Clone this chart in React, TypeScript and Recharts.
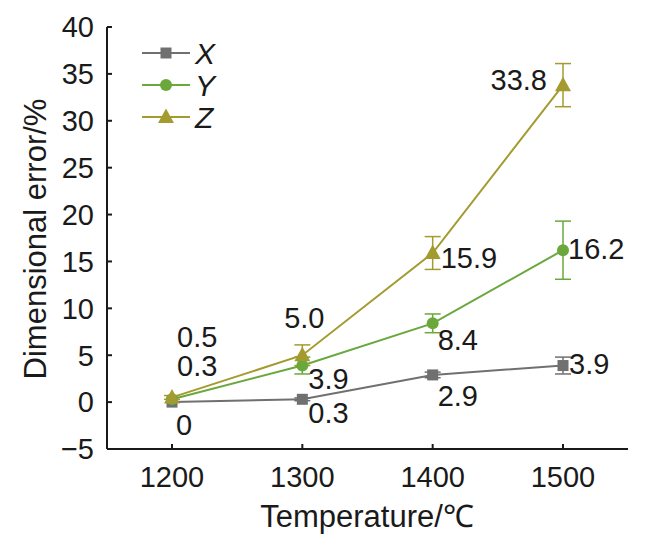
import React from 'react';
import {
  LineChart,
  Line,
  XAxis,
  YAxis,
  ErrorBar,
  LabelList,
  Label,
} from 'recharts';

const temperatures = ['1200', '1300', '1400', '1500'];

const xError = [0, 0.3, 2.9, 3.9];
const yError = [0.3, 3.9, 8.4, 16.2];
const zError = [0.5, 5.0, 15.9, 33.8];

const xSpread = [0, 0.15, 0.3, 0.9];
const ySpread = [0, 0.9, 1.0, 3.1];
const zSpread = [0.2, 1.1, 1.75, 2.3];

const yTicks = [-5, 0, 5, 10, 15, 20, 25, 30, 35, 40];

const FONT = '"Liberation Sans", Arial, Helvetica, sans-serif';
const AXIS = '#1a1a1a';

const series = [
  { key: 'X', err: 'xErr', color: '#707070', shape: 'square' },
  { key: 'Y', err: 'yErr', color: '#6aa83c', shape: 'circle' },
  { key: 'Z', err: 'zErr', color: '#a49b30', shape: 'triangle' },
];

// where each value label sits relative to its point: [dx, dy, anchor]
const labelPlacement: Record<string, [number, number, string][]> = {
  X: [[4, 23, 'start'], [6, 14, 'start'], [5, 21, 'start'], [6, -2, 'start']],
  Y: [[5, -33, 'start'], [6, 13, 'start'], [5, 17, 'start'], [5, -1, 'start']],
  Z: [[5, -60, 'start'], [2, -37, 'middle'], [8, 5, 'start'], [-16, -5, 'end']],
};

const data = temperatures.map((t, i) => ({
  temp: t,
  X: xError[i],
  Y: yError[i],
  Z: zError[i],
  xErr: xSpread[i],
  yErr: ySpread[i],
  zErr: zSpread[i],
}));

function Marker({ cx, cy, shape, color }: any) {
  if (cx == null || cy == null) return null;
  if (shape === 'square') {
    return <rect x={cx - 5.5} y={cy - 5.5} width={11} height={11} fill={color} />;
  }
  if (shape === 'circle') {
    return <circle cx={cx} cy={cy} r={6} fill={color} />;
  }
  return (
    <polygon
      points={`${cx},${cy - 8.5} ${cx - 8},${cy + 6} ${cx + 8},${cy + 6}`}
      fill={color}
    />
  );
}

function makeValueLabel(key: string, values: number[]) {
  return (props: any) => {
    const { x, y, index } = props;
    const [dx, dy, anchor] = labelPlacement[key][index];
    return (
      <text
        x={x + dx}
        y={y + dy}
        textAnchor={anchor as any}
        dominantBaseline="central"
        fontSize={29}
        fontFamily={FONT}
        fill="#1a1a1a"
      >
        {values[index].toFixed(index === 0 && key === 'X' ? 0 : 1)}
      </text>
    );
  };
}

// legend drawn as an overlay in the top-left corner of the plot
function LegendBox() {
  return (
    <svg width={90} height={100} style={{ position: 'absolute', left: 135, top: 36 }}>
      {series.map((s, i) => {
        const cy = 17 + i * 32;
        return (
          <g key={s.key}>
            <line x1={7} x2={55} y1={cy} y2={cy} stroke={s.color} strokeWidth={2} />
            <Marker cx={31} cy={cy} shape={s.shape} color={s.color} />
            <text
              x={60}
              y={cy}
              dominantBaseline="central"
              fontSize={30}
              fontStyle="italic"
              fontFamily={FONT}
              fill="#1a1a1a"
            >
              {s.key}
            </text>
          </g>
        );
      })}
    </svg>
  );
}

const valuesByKey: Record<string, number[]> = { X: xError, Y: yError, Z: zError };

export default function App() {
  return (
    <div style={{ position: 'absolute', left: 0, top: 0, width: 659, height: 544, background: '#fff' }}>
      <LineChart
        width={659}
        height={544}
        data={data}
        margin={{ top: 27, right: 31, left: 10, bottom: 30 }}
      >
        <XAxis
          dataKey="temp"
          height={65}
          padding={{ left: 65, right: 65 }}
          stroke={AXIS}
          strokeWidth={2}
          tickSize={-5}
          tickMargin={22}
          tick={{ fontSize: 29, fontFamily: FONT, fill: '#1a1a1a' }}
        >
          <Label
            content={() => (
              <text
                x={367}
                y={527}
                textAnchor="middle"
                fontSize={31}
                fontFamily={FONT}
                fill="#1a1a1a"
              >
                Temperature/℃
              </text>
            )}
          />
        </XAxis>
        <XAxis
          xAxisId="top"
          orientation="top"
          dataKey="temp"
          height={0}
          stroke={AXIS}
          strokeWidth={2}
          tick={false}
          tickLine={false}
        />
        <YAxis
          width={97}
          domain={[-5, 40]}
          ticks={yTicks}
          interval={0}
          stroke={AXIS}
          strokeWidth={2}
          tickSize={-5}
          tickMargin={18}
          tickFormatter={(v: number) => (v < 0 ? `−${Math.abs(v)}` : `${v}`)}
          tick={{ fontSize: 29, fontFamily: FONT, fill: '#1a1a1a' }}
        >
          <Label
            content={() => (
              <text
                x={35}
                y={239}
                textAnchor="middle"
                dominantBaseline="central"
                transform="rotate(-90 35 239)"
                fontSize={31}
                fontFamily={FONT}
                fill="#1a1a1a"
              >
                Dimensional error/%
              </text>
            )}
          />
        </YAxis>
        <YAxis
          yAxisId="right"
          orientation="right"
          width={0}
          domain={[-5, 40]}
          stroke={AXIS}
          strokeWidth={2}
          tick={false}
          tickLine={false}
        />
        {series.map((s) => (
          <Line
            key={s.key}
            dataKey={s.key}
            stroke={s.color}
            strokeWidth={2}
            isAnimationActive={false}
            dot={(p: any) => <Marker key={`${s.key}-${p.index}`} cx={p.cx} cy={p.cy} shape={s.shape} color={s.color} />}
            activeDot={false}
          >
            <ErrorBar dataKey={s.err} direction="y" width={8} stroke={s.color} strokeWidth={1.5} />
            <LabelList dataKey={s.key} content={makeValueLabel(s.key, valuesByKey[s.key])} />
          </Line>
        ))}
      </LineChart>
      <LegendBox />
    </div>
  );
}
